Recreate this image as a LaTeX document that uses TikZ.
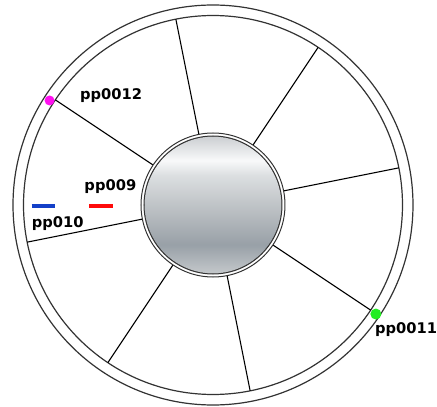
\documentclass[tikz,border=0pt]{standalone}
\usepackage{fontspec}
\setmainfont{DejaVu Sans}
\definecolor{hubA}{HTML}{C4C8CB}
\definecolor{hubB}{HTML}{98A0A7}
\definecolor{hubC}{HTML}{B6BBBF}
\definecolor{hubD}{HTML}{DCDFE1}
\definecolor{hubE}{HTML}{F8F9FA}
\definecolor{hubF}{HTML}{CCCFD2}
\definecolor{ringline}{HTML}{333333}
\definecolor{tagblue}{HTML}{1440C8}
\definecolor{tagred}{HTML}{FF0A0A}
\definecolor{tagmagenta}{HTML}{FF10F0}
\definecolor{taggreen}{HTML}{22EE22}
\pgfdeclareverticalshading{hubshade}{100bp}{%
  color(0bp)=(hubA); color(25bp)=(hubA); color(35.5bp)=(hubB);
  color(46.4bp)=(hubC); color(51.8bp)=(hubA); color(60.9bp)=(hubD);
  color(66.3bp)=(hubE); color(75bp)=(hubF); color(100bp)=(hubF)}
\begin{document}
\begin{tikzpicture}[x=1pt,y=1pt,
  ringcircle/.style={draw=ringline,line width=1.2pt},
  spoke/.style={draw=black,line width=1.1pt},
  tag/.style={font=\fontsize{14.7}{17}\selectfont\bfseries,inner sep=0pt,anchor=base west},
  bar/.style={line width=4pt},
  probe/.style={circle,inner sep=0pt}]
\useasboundingbox (-213,-202) rectangle (224,205);

% outer wheel: two concentric rims
\draw[ringcircle] (0,0) circle (200);
\draw[ringcircle] (0,0) circle (189.5);

% spokes from the hub to the inner rim
\foreach \i in {0,...,7} {
  \pgfmathsetmacro{\ang}{11.3+45*\i}
  \coordinate (h\i) at (\ang:72);
  \coordinate (r\i) at (\ang:189.5);
  \draw[spoke] (h\i) -- (r\i);
}

% central hub with double border and metallic fill
\node[circle,draw=ringline,line width=1pt,fill=white,minimum size=144pt,inner sep=0pt] (hub) at (0,0) {};
\fill[shading=hubshade] (0,0) circle (68.5);
\draw[ringline,line width=1pt] (0,0) circle (69);

% probe markers on the rim
\node[probe,fill=tagmagenta,minimum size=10pt] (p12) at (147.4:194) {};
\node[probe,fill=taggreen,minimum size=11pt] (p11) at (-33.8:196) {};

% colour bars
\coordinate (b1) at (-181.3,-1.3);
\coordinate (b2) at (-158,-1.3);
\coordinate (c1) at (-123.7,-1.3);
\coordinate (c2) at (-99.7,-1.3);
\draw[bar,tagblue] (b1) -- (b2);
\draw[bar,tagred] (c1) -- (c2);

% labels
\node[tag] (l12) at (-133,105) {pp0012};
\node[tag] (l9) at (-128.7,14.3) {pp009};
\node[tag] (l10) at (-181.3,-22.3) {pp010};
\node[tag] (l11) at (162,-128) {pp0011};
\end{tikzpicture}
\end{document}
